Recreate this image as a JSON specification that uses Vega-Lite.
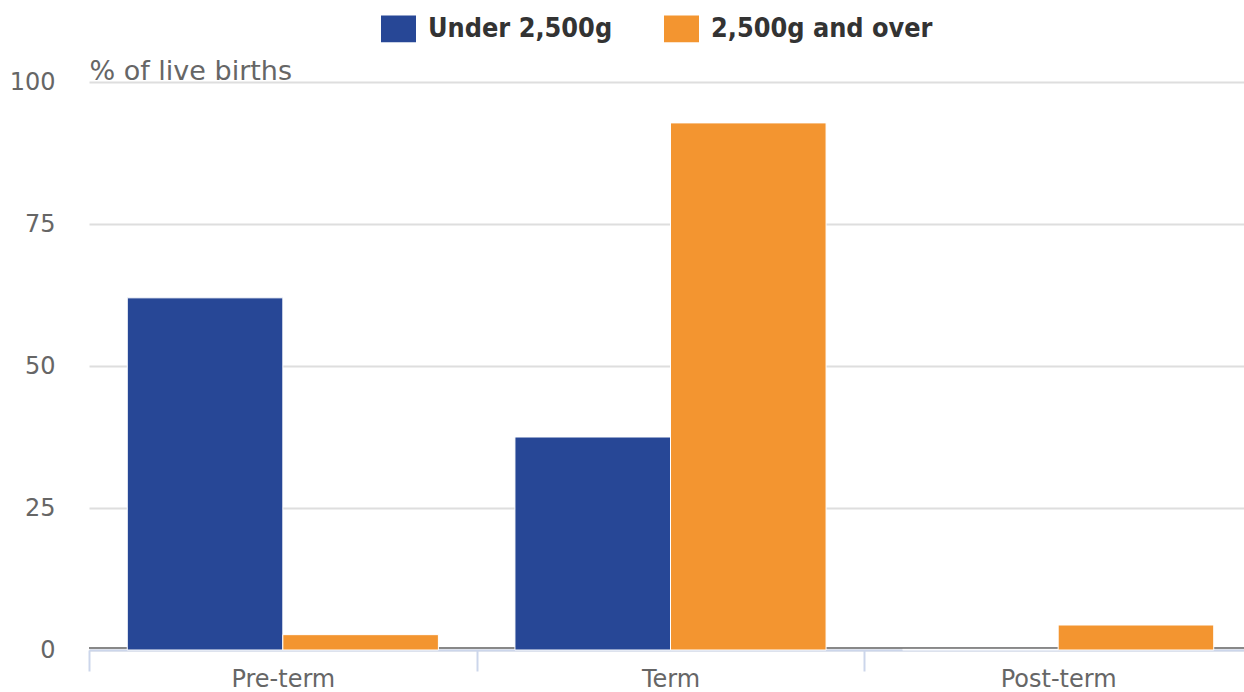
{
  "$schema": "https://vega.github.io/schema/vega-lite/v6.json",
  "width": 1155,
  "height": 568,
  "autosize": {"type": "none"},
  "padding": {"left": 89, "top": 82, "right": 0, "bottom": 42},
  "background": "#ffffff",
  "config": {
    "view": {"stroke": null},
    "font": "DejaVu Sans",
    "axisY": {
      "grid": true,
      "gridColor": "#dedede",
      "gridWidth": 2,
      "ticks": false,
      "domain": false,
      "labelFont": "DejaVu Sans",
      "labelFontSize": 24,
      "labelColor": "#666666",
      "labelPadding": 34,
      "titleAngle": 0,
      "titleAlign": "left",
      "titleBaseline": "alphabetic",
      "titleX": 0,
      "titleY": -3,
      "titleFont": "DejaVu Sans",
      "titleFontSize": 27,
      "titleFontWeight": "normal",
      "titleColor": "#666666"
    }
  },
  "data": {
    "values": [
      {"gestation": "Pre-term", "weight": "Under 2,500g", "pct": 62.0},
      {"gestation": "Pre-term", "weight": "2,500g and over", "pct": 2.7},
      {"gestation": "Term", "weight": "Under 2,500g", "pct": 37.5},
      {"gestation": "Term", "weight": "2,500g and over", "pct": 92.8},
      {"gestation": "Post-term", "weight": "Under 2,500g", "pct": 0.1},
      {"gestation": "Post-term", "weight": "2,500g and over", "pct": 4.4}
    ]
  },
  "layer": [
    {
      "mark": {"type": "rule", "color": "#888888", "strokeWidth": 2, "yOffset": -2},
      "encoding": {
        "y": {
          "datum": 0,
          "type": "quantitative",
          "scale": {"domain": [0, 100], "nice": false},
          "axis": {"title": "% of live births", "grid": true, "values": [0, 25, 50, 75, 100]}
        }
      }
    },
    {
      "mark": {"type": "bar", "stroke": "#ffffff", "strokeWidth": 1},
      "encoding": {
        "x": {
          "field": "gestation",
          "type": "nominal",
          "sort": ["Pre-term", "Term", "Post-term"],
          "scale": {"paddingInner": 0, "paddingOuter": 0, "range": [0, 1163]},
          "axis": {
            "title": null,
            "labelAngle": 0,
            "labelFont": "DejaVu Sans",
            "labelFontSize": 24,
            "labelColor": "#666666",
            "labelBaseline": "alphabetic",
            "labelPadding": 15,
            "tickBand": "extent",
            "tickSize": 21,
            "tickWidth": 2,
            "tickColor": "#ccd6eb",
            "domainColor": "#ccd6eb",
            "domainWidth": 2,
            "grid": false
          }
        },
        "xOffset": {
          "field": "weight",
          "type": "nominal",
          "sort": ["Under 2,500g", "2,500g and over"],
          "scale": {"paddingInner": 0, "paddingOuter": 0.246}
        },
        "y": {
          "field": "pct",
          "type": "quantitative",
          "scale": {"domain": [0, 100], "nice": false},
          "axis": {"title": "% of live births", "grid": true, "values": [0, 25, 50, 75, 100]}
        },
        "color": {
          "field": "weight",
          "type": "nominal",
          "sort": ["Under 2,500g", "2,500g and over"],
          "scale": {"domain": ["Under 2,500g", "2,500g and over"], "range": ["#274796", "#f39530"]},
          "legend": {
            "title": null,
            "orient": "none",
            "direction": "horizontal",
            "columns": 2,
            "legendX": 292,
            "legendY": -71,
            "symbolType": "M-1,-0.77H1V0.77H-1Z",
            "symbolSize": 1225,
            "symbolStrokeWidth": 0,
            "symbolOpacity": 1,
            "labelFont": "DejaVu Sans Condensed",
            "labelFontWeight": "bold",
            "labelFontSize": 26.8,
            "labelColor": "#333333",
            "labelOffset": 12,
            "columnPadding": 51,
            "labelLimit": 400
          }
        }
      }
    }
  ]
}
